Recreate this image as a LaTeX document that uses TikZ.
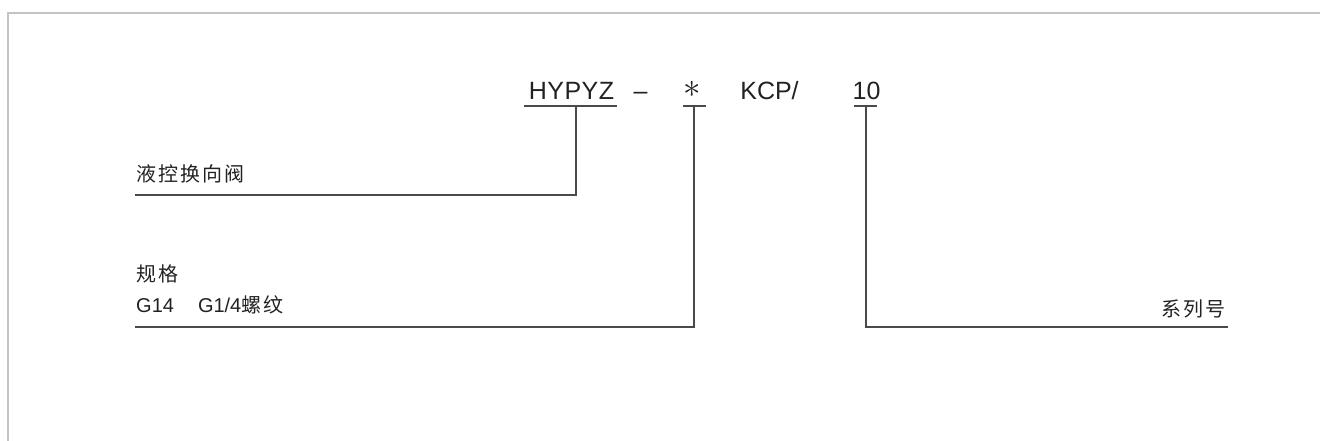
\documentclass[tikz,border=0pt]{standalone}
\usepackage{graphicx}
\usepackage{fontspec}
\setmainfont{Liberation Sans}
\newfontfamily\cjk{Noto Sans CJK SC}[LetterSpace=10]
\newfontfamily\codefont{Liberation Sans}[LetterSpace=2]
\newfontfamily\kcpfont{Liberation Sans}
\definecolor{framegray}{HTML}{C4C4C4}
\definecolor{leadgray}{HTML}{4A4A4A}
\definecolor{txt}{HTML}{222222}
\tikzset{
  frameline/.style={draw=framegray,line width=2pt},
  leadline/.style={draw=leadgray,line width=1.5pt},
  uline/.style={draw=leadgray,line width=1.1pt},
  code/.style={inner sep=0pt,anchor=base,text=txt,font=\codefont\fontsize{25}{30}\selectfont},
  lab/.style={inner sep=0pt,anchor=base west,text=txt,font=\fontsize{20}{24}\selectfont},
  cjklab/.style={inner sep=0pt,anchor=base west,text=txt,font=\cjk\fontsize{20}{24}\selectfont},
}
\begin{document}
\begin{tikzpicture}[x=1pt,y=-1pt]
\useasboundingbox (0,0) rectangle (1320,441);
% frame
\draw[frameline] (1320,13) -- (8,13) -- (8,441);
% code line
\node[code] (hypyz) at (571.5,100) {HYPYZ};
\node[code] (dash) at (640.5,100) {\kcpfont –};
\node[code] (star) at (692.5,98) {\scalebox{1.4}{$\ast$}};
\node[code] (kcp) at (769.5,100) {\kcpfont KCP/};
\node[code] (ten) at (866.5,100) {\kcpfont 10};
% underlines
\coordinate (u1a) at (524,106); \coordinate (u1b) at (617,106);
\coordinate (u2a) at (683,106); \coordinate (u2b) at (706,106);
\coordinate (u3a) at (854,106); \coordinate (u3b) at (877,106);
\draw[uline] (u1a) -- (u1b);
\draw[uline] (u2a) -- (u2b);
\draw[uline] (u3a) -- (u3b);
% labels
\node[cjklab] (l1) at (136,182) {液控换向阀};
\node[cjklab] (l2) at (136,281) {规格};
\node[lab] (l3) at (136,312.5) {G14\hspace{24pt}G1/4{\cjk 螺纹}};
\node[cjklab,anchor=base east] (l4) at (1226,316.5) {系列号};
% leader lines
\coordinate (c1) at (576,106); \coordinate (e1) at (135,195);
\coordinate (c2) at (694,106); \coordinate (e2) at (135,327);
\coordinate (c3) at (866,106); \coordinate (e3) at (1228,327);
\draw[leadline] (c1) |- (e1);
\draw[leadline] (c2) |- (e2);
\draw[leadline] (c3) |- (e3);
\end{tikzpicture}
\end{document}
